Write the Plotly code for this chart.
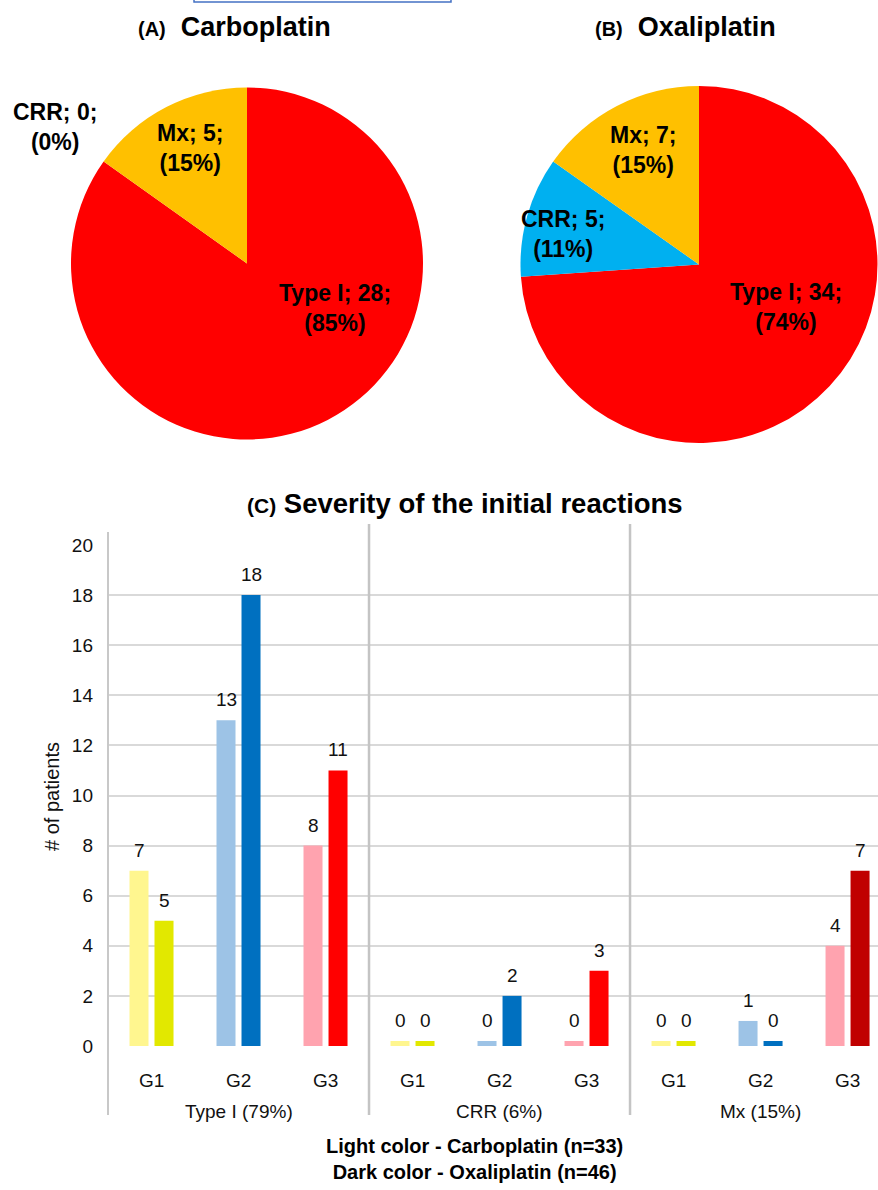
import plotly.graph_objects as go

W, H = 878, 1190

# ---------------- data ----------------
pie_labels = ["Type I", "CRR", "Mx"]
carbo_counts = [28, 0, 5]
oxali_counts = [34, 5, 7]
pie_colors = ["#FF0000", "#00B0F0", "#FFC000"]

grades = ["G1", "G2", "G3", "G1", "G2", "G3", "G1", "G2", "G3"]
groups = ["Type I (79%)", "CRR (6%)", "Mx (15%)"]
carbo_sev = [7, 13, 8, 0, 0, 0, 0, 1, 4]
oxali_sev = [5, 18, 11, 0, 2, 3, 0, 0, 7]
light_colors = ["#FFF68F", "#9DC3E6", "#FFA3AF"] * 3
dark_colors = ["#E2E800", "#0070C0", "#FF0000",
               "#E2E800", "#0070C0", "#FF0000",
               "#E2E800", "#0070C0", "#C00000"]
yticks = list(range(0, 21, 2))

FONT = "Liberation Sans, Arial, sans-serif"


def px(x):
    return x / W


def py(y):
    return 1 - y / H


fig = go.Figure()

# ---------------- pies ----------------
fig.add_trace(go.Pie(values=carbo_counts, labels=pie_labels, sort=False,
                     direction="clockwise", rotation=0, textinfo="none",
                     marker=dict(colors=pie_colors), showlegend=False,
                     domain=dict(x=[px(71), px(423)], y=[py(440), py(87)])))
fig.add_trace(go.Pie(values=oxali_counts, labels=pie_labels, sort=False,
                     direction="clockwise", rotation=0, textinfo="none",
                     marker=dict(colors=pie_colors), showlegend=False,
                     domain=dict(x=[px(520), px(878)], y=[py(443), py(86)])))

annotations = []


def pie_text(label, v, total):
    return f"<b>{label}; {v};<br>({round(100 * v / total)}%)</b>"


label_pos_a = {"Type I": (335, 308), "CRR": (55, 127), "Mx": (190, 148)}
label_pos_b = {"Type I": (786, 307), "CRR": (563, 234), "Mx": (643, 150)}
for counts, pos in ((carbo_counts, label_pos_a), (oxali_counts, label_pos_b)):
    tot = sum(counts)
    for lab, v in zip(pie_labels, counts):
        x, y = pos[lab]
        annotations.append(dict(x=px(x), y=py(y), xref="paper", yref="paper",
                                text=pie_text(lab, v, tot), showarrow=False,
                                align="center", xanchor="center", yanchor="middle",
                                font=dict(size=23, color="black", family=FONT)))

# pie titles
annotations.append(dict(x=px(234), y=py(27), xref="paper", yref="paper", showarrow=False,
                        xanchor="center", yanchor="middle",
                        text="<b><span style='font-size:20px'>(A)</span>  Carboplatin</b>",
                        font=dict(size=27, color="black", family=FONT)))
annotations.append(dict(x=px(685), y=py(27), xref="paper", yref="paper", showarrow=False,
                        xanchor="center", yanchor="middle",
                        text="<b><span style='font-size:20px'>(B)</span>  Oxaliplatin</b>",
                        font=dict(size=27, color="black", family=FONT)))

# ---------------- bars ----------------
xs = list(range(len(grades)))
STUB = 0.2
carbo_plot = [max(v, STUB) for v in carbo_sev]
oxali_plot = [max(v, STUB) for v in oxali_sev]

fig.add_trace(go.Bar(x=xs, y=carbo_plot, marker=dict(color=light_colors, line=dict(width=0)),
                     showlegend=False, name="Carboplatin"))
fig.add_trace(go.Bar(x=xs, y=oxali_plot, marker=dict(color=dark_colors, line=dict(width=0)),
                     showlegend=False, name="Oxaliplatin"))

OFF = 0.1437
for i in xs:
    annotations.append(dict(x=i - OFF, y=carbo_plot[i], xref="x", yref="y", text=str(carbo_sev[i]),
                            showarrow=False, yanchor="bottom", yshift=8,
                            font=dict(size=19, color="#111", family=FONT)))
    annotations.append(dict(x=i + OFF, y=oxali_plot[i], xref="x", yref="y", text=str(oxali_sev[i]),
                            showarrow=False, yanchor="bottom", yshift=8,
                            font=dict(size=19, color="#111", family=FONT)))
    annotations.append(dict(x=i, y=py(1080), xref="x", yref="paper", text=grades[i],
                            showarrow=False, yanchor="middle",
                            font=dict(size=19, color="#111", family=FONT)))
for g, name in enumerate(groups):
    annotations.append(dict(x=3 * g + 1, y=py(1111), xref="x", yref="paper", text=name,
                            showarrow=False, yanchor="middle",
                            font=dict(size=19, color="#111", family=FONT)))

annotations.append(dict(x=px(52), y=py(797), xref="paper", yref="paper", text="# of patients",
                        textangle=-90, showarrow=False, xanchor="center", yanchor="middle",
                        font=dict(size=20, color="#111", family=FONT)))
annotations.append(dict(x=px(465), y=py(503), xref="paper", yref="paper", showarrow=False,
                        xanchor="center", yanchor="middle",
                        text="<b><span style='font-size:21px'>(C)</span> Severity of the initial reactions</b>",
                        font=dict(size=27.5, color="black", family=FONT)))
annotations.append(dict(x=px(474), y=py(1159), xref="paper", yref="paper", showarrow=False,
                        xanchor="center", yanchor="middle",
                        text="<b>Light color - Carboplatin (n=33)<br>Dark color - Oxaliplatin (n=46)</b>",
                        font=dict(size=20, color="black", family=FONT)))

shapes = [
    dict(type="line", xref="paper", yref="paper", x0=px(108), x1=px(108), y0=py(532), y1=py(1115),
         line=dict(color="#C8C8C8", width=2)),
    dict(type="line", xref="x", yref="paper", x0=2.5, x1=2.5, y0=py(524), y1=py(1115),
         line=dict(color="#C4C4C4", width=2.5)),
    dict(type="line", xref="x", yref="paper", x0=5.5, x1=5.5, y0=py(524), y1=py(1115),
         line=dict(color="#C4C4C4", width=2.5)),
    dict(type="rect", xref="paper", yref="paper", x0=px(194), x1=px(451), y0=py(2), y1=py(-10),
         line=dict(color="#4472C4", width=1.5)),
]

fig.update_layout(
    width=W, height=H,
    margin=dict(l=0, r=0, t=0, b=0, pad=0, autoexpand=False),
    paper_bgcolor="white", plot_bgcolor="white",
    barmode="group", bargap=0.425, bargroupgap=0.24,
    font=dict(family=FONT, color="#111"),
    xaxis=dict(domain=[px(108), 1], range=[-0.5, 8.35], showticklabels=False,
               showgrid=False, zeroline=False, showline=False, fixedrange=True,
               automargin=False),
    yaxis=dict(domain=[py(1046), py(545)], range=[0, 20], tickvals=yticks,
               showgrid=True, gridcolor="#D9D9D9", gridwidth=1.5, zeroline=False,
               showline=False, tickfont=dict(size=19, color="#111", family=FONT),
               ticks="", ticklabelstandoff=14, automargin=False),
    annotations=annotations,
    shapes=shapes,
)

fig.write_html("out.html")
